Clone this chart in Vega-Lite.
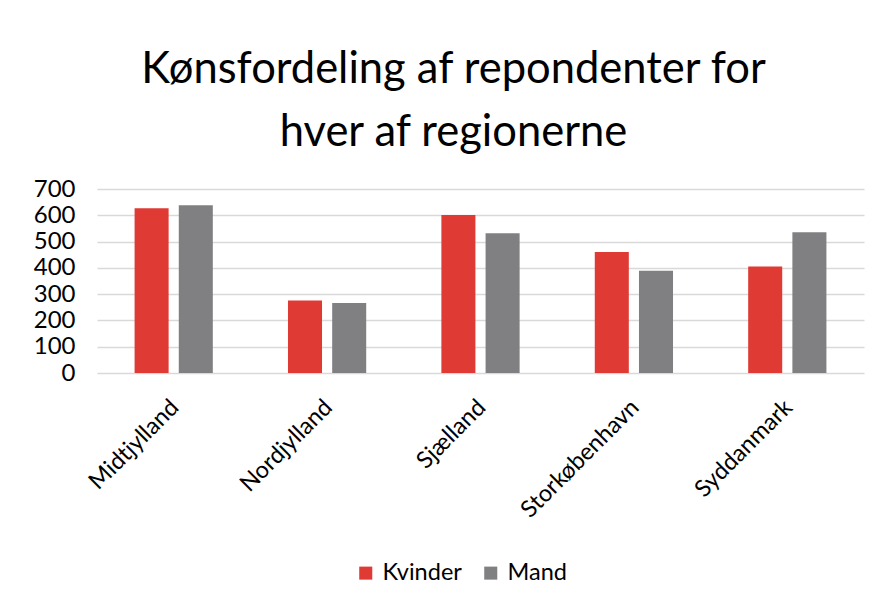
{
  "$schema": "https://vega.github.io/schema/vega-lite/v6.json",
  "autosize": "none",
  "width": 767,
  "height": 184,
  "padding": {"left": 97, "top": 189, "right": 27, "bottom": 234},
  "background": "white",
  "title": {
    "text": ["Kønsfordeling af repondenter for", "hver af regionerne"],
    "font": "Lato",
    "fontSize": 43.5,
    "fontWeight": "normal",
    "color": "#000000",
    "lineHeight": 63,
    "anchor": "middle",
    "dx": -27,
    "offset": 22
  },
  "data": {
    "values": [
      {"region": "Midtjylland", "køn": "Kvinder", "antal": 627},
      {"region": "Midtjylland", "køn": "Mand", "antal": 638},
      {"region": "Nordjylland", "køn": "Kvinder", "antal": 276},
      {"region": "Nordjylland", "køn": "Mand", "antal": 266},
      {"region": "Sjælland", "køn": "Kvinder", "antal": 601},
      {"region": "Sjælland", "køn": "Mand", "antal": 532},
      {"region": "Storkøbenhavn", "køn": "Kvinder", "antal": 460},
      {"region": "Storkøbenhavn", "køn": "Mand", "antal": 389},
      {"region": "Syddanmark", "køn": "Kvinder", "antal": 405},
      {"region": "Syddanmark", "køn": "Mand", "antal": 535}
    ]
  },
  "mark": {"type": "bar"},
  "encoding": {
    "x": {
      "field": "region",
      "type": "nominal",
      "sort": null,
      "scale": {"paddingInner": 0.49, "paddingOuter": 0.245},
      "axis": {
        "title": null,
        "labelAngle": -45,
        "labelFont": "Lato",
        "labelFontSize": 23.5,
        "labelColor": "#000000",
        "labelPadding": 22,
        "labelOffset": -7,
        "ticks": false,
        "domain": false
      }
    },
    "xOffset": {
      "field": "køn",
      "type": "nominal",
      "scale": {"paddingInner": 0.23, "paddingOuter": 0}
    },
    "y": {
      "field": "antal",
      "type": "quantitative",
      "scale": {"domain": [0, 700]},
      "axis": {
        "title": null,
        "values": [0, 100, 200, 300, 400, 500, 600, 700],
        "labelFont": "Lato",
        "labelFontSize": 24,
        "labelColor": "#000000",
        "labelPadding": 22,
        "ticks": false,
        "domain": false,
        "grid": true,
        "gridColor": "#d9d9d9",
        "gridWidth": 1.5
      }
    },
    "color": {
      "field": "køn",
      "type": "nominal",
      "scale": {"domain": ["Kvinder", "Mand"], "range": ["#e03a35", "#808083"]},
      "legend": {
        "title": null,
        "orient": "none",
        "direction": "horizontal",
        "legendX": 257,
        "legendY": 372,
        "symbolType": "square",
        "symbolSize": 170,
        "symbolOpacity": 1,
        "labelFont": "Lato",
        "labelFontSize": 23.5,
        "labelColor": "#000000",
        "labelOffset": 5,
        "columnPadding": 17
      }
    }
  },
  "config": {"view": {"stroke": null}}
}
